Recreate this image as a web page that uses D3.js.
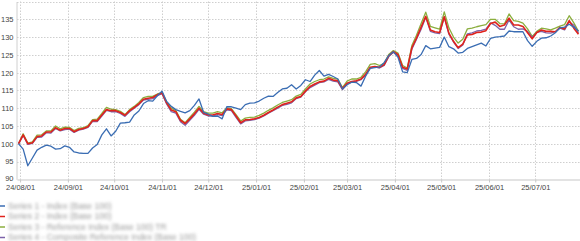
<!DOCTYPE html>
<html lang="ja">
<meta charset="utf-8">
<style>
  body { margin: 0; background: #fff; }
  .grid line { stroke: #cfcfcf; stroke-dasharray: 1.5 1.5; }
  .axis text { font-family: "Liberation Sans", Arial, sans-serif; font-size: 7.5px; fill: #444; }
  .legend text { font-family: "Liberation Sans", Arial, sans-serif; font-size: 8.5px; fill: #9a9a9a; }
</style>
<script src="https://d3js.org/d3.v7.min.js"></script>
<body>
<div id="chart"></div>
<script>
// dates (every 3 days)
const dates = [
"2024-07-31","2024-08-03","2024-08-06","2024-08-09","2024-08-12","2024-08-15","2024-08-18","2024-08-21","2024-08-24","2024-08-27",
"2024-08-30","2024-09-02","2024-09-05","2024-09-08","2024-09-11","2024-09-14","2024-09-17","2024-09-20","2024-09-23","2024-09-26",
"2024-09-29","2024-10-02","2024-10-05","2024-10-08","2024-10-11","2024-10-14","2024-10-17","2024-10-20","2024-10-23","2024-10-26",
"2024-10-29","2024-11-01","2024-11-04","2024-11-07","2024-11-10","2024-11-13","2024-11-16","2024-11-19","2024-11-22","2024-11-25",
"2024-11-28","2024-12-01","2024-12-04","2024-12-07","2024-12-10","2024-12-13","2024-12-16","2024-12-19","2024-12-22","2024-12-25",
"2024-12-28","2024-12-31","2025-01-03","2025-01-06","2025-01-09","2025-01-12","2025-01-15","2025-01-18","2025-01-21","2025-01-24",
"2025-01-27","2025-01-30","2025-02-02","2025-02-05","2025-02-08","2025-02-11","2025-02-14","2025-02-17","2025-02-20","2025-02-23",
"2025-02-26","2025-03-01","2025-03-04","2025-03-07","2025-03-10","2025-03-13","2025-03-16","2025-03-19","2025-03-22","2025-03-25",
"2025-03-28","2025-03-31","2025-04-03","2025-04-06","2025-04-09","2025-04-12","2025-04-15","2025-04-18","2025-04-21","2025-04-24",
"2025-04-27","2025-04-30","2025-05-03","2025-05-06","2025-05-09","2025-05-12","2025-05-15","2025-05-18","2025-05-21","2025-05-24",
"2025-05-27","2025-05-30","2025-06-02","2025-06-05","2025-06-08","2025-06-11","2025-06-14","2025-06-17","2025-06-20","2025-06-23",
"2025-06-26","2025-06-29","2025-07-02","2025-07-05","2025-07-08","2025-07-11","2025-07-14","2025-07-17","2025-07-20","2025-07-23",
"2025-07-26","2025-07-29"]

const blue = [
100.0,98.5,93.8,96.0,98.2,99.0,99.6,99.3,98.5,98.6,
99.4,99.0,97.7,97.4,97.3,97.3,98.8,99.8,102.5,104.2,
102.2,103.5,105.8,105.9,106.1,108.1,109.2,111.3,112.1,112.0,
113.5,114.8,111.9,110.5,109.6,109.1,108.7,109.3,110.8,112.6,
108.8,108.3,107.7,107.8,107.0,110.4,110.4,110.0,109.6,111.0,
111.4,111.5,112.0,112.8,113.4,113.3,114.4,115.4,115.6,116.6,
115.4,116.4,118.0,117.5,119.3,120.6,119.0,119.5,118.9,118.2,
115.4,116.6,117.3,117.2,116.2,119.0,121.2,121.4,121.6,122.8,
124.8,125.9,124.3,120.2,120.0,123.7,124.0,125.1,127.6,126.7,
126.9,127.1,130.0,127.3,126.7,125.5,125.7,126.8,127.3,127.8,
128.3,127.5,129.6,130.0,130.1,130.3,131.7,131.5,131.5,131.5,
129.0,127.4,128.8,129.7,129.8,130.3,131.2,132.6,132.8,133.6,
132.8,131.7]

const red = [
100.0,102.5,100.0,100.3,102.0,102.2,103.3,103.3,104.5,103.8,
104.3,104.3,103.4,104.0,104.3,104.8,106.5,106.5,108.1,109.6,
109.3,109.3,108.8,108.0,109.3,110.2,111.2,112.5,112.8,113.0,
113.8,114.3,111.5,109.5,109.0,106.6,105.7,107.0,108.4,110.0,
108.6,108.1,108.1,108.5,108.2,109.8,109.6,107.8,105.9,106.7,
106.8,107.0,107.4,108.0,108.8,109.5,110.3,111.0,111.4,111.8,
112.9,113.3,114.8,116.1,116.8,117.4,117.6,118.4,117.9,117.7,
115.5,117.0,117.5,117.7,118.2,119.5,121.5,121.7,121.5,122.2,
124.7,125.9,125.1,121.5,121.0,127.0,129.7,132.8,135.8,132.0,
131.5,131.3,135.7,131.1,128.8,127.0,128.0,130.6,130.7,131.3,
131.4,131.8,133.8,134.2,133.0,133.4,135.3,133.4,133.4,133.0,
131.2,129.5,131.3,132.0,131.6,131.6,131.5,132.7,132.3,134.6,
132.5,130.8]

const green = [
100.0,102.8,100.2,100.5,102.4,102.5,103.6,103.6,105.0,104.2,
104.7,104.6,103.7,104.3,104.5,105.1,106.8,106.9,108.5,110.2,
109.7,109.6,109.1,108.2,109.6,110.5,111.6,113.0,113.3,113.3,
114.0,114.4,111.8,110.0,109.3,106.9,105.9,107.4,108.9,110.5,
109.0,108.6,108.6,109.0,108.7,110.1,109.9,108.2,106.4,107.2,
107.4,107.5,108.0,108.6,109.4,110.1,110.9,111.6,112.0,112.4,
113.4,113.9,115.4,116.8,117.5,118.0,118.2,118.8,118.4,118.2,
115.8,117.6,118.2,118.2,118.7,120.2,122.3,122.5,122.0,122.6,
125.1,126.2,125.5,122.0,121.3,127.6,130.5,133.8,137.0,133.0,
132.6,132.2,137.1,132.6,130.0,128.3,129.4,132.3,132.5,132.9,
133.2,133.5,135.0,135.0,133.8,133.7,136.5,134.6,134.4,133.9,
132.3,130.2,131.6,132.5,132.3,132.0,132.5,133.1,133.5,136.0,
134.0,131.6]

const purple = [
100.0,102.3,99.8,100.1,101.8,101.9,103.1,103.0,104.3,103.6,
104.0,104.1,103.2,103.8,104.1,104.6,106.3,106.2,107.8,109.4,
109.0,109.0,108.5,107.7,109.0,110.0,111.0,112.3,112.5,112.7,
113.5,114.1,111.2,109.0,108.6,106.2,105.2,106.6,108.0,109.7,
108.3,107.8,107.8,108.2,107.9,109.5,109.3,107.4,105.6,106.4,
106.6,106.8,107.2,107.8,108.6,109.3,110.0,110.8,111.1,111.5,
112.7,113.1,114.6,115.8,116.5,117.2,117.4,118.1,117.6,117.4,
115.2,116.8,117.3,117.5,118.0,119.3,121.3,121.6,121.3,122.0,
124.5,125.7,124.8,121.2,120.6,126.6,129.4,132.2,135.6,131.6,
131.2,131.0,135.6,130.8,128.6,126.8,127.8,130.9,131.2,131.7,
131.9,132.2,134.0,133.3,132.2,132.2,134.8,132.9,132.2,132.3,
131.6,129.9,131.3,131.6,131.2,131.1,131.5,132.5,132.0,134.3,
133.3,131.2]

const yTicks = [90, 95, 100, 105, 110, 115, 120, 125, 130, 135, 140]

// legend labels (original text is unreadable in the source image)
const labels = [
  "Series 1 - Index (Base 100)",
  "Series 2 - Index (Base 100)",
  "Series 3 - Reference Index (Base 100) TR",
  "Series 4 - Composite Reference Index (Base 100)"
]
const colors = ["#3a6db3", "#e0231c", "#8bae3e", "#7c62a9"]

const W = 580, H = 241
const LEFT = 17, RIGHT = 580, TOP = 1.5, BOTTOM = 179.3

const svg = d3.select("#chart").append("svg")
  .attr("width", W)
  .attr("height", H)

const parse = d3.timeParse("%Y-%m-%d")
const xs = dates.map(parse)

const x = d3.scaleTime()
  .domain([parse("2024-07-30"), parse("2025-07-30")])
  .range([LEFT, RIGHT])
const y = d3.scaleLinear().domain([90, 140]).range([BOTTOM, TOP])

const months = d3.timeMonth.range(parse("2024-08-01"), parse("2025-07-02"))

// grid
const grid = svg.append("g").attr("class", "grid")
grid.selectAll(".h").data(yTicks.filter(d => d > 90)).join("line")
  .attr("x1", LEFT).attr("x2", RIGHT)
  .attr("y1", d => Math.round(y(d)) + 0.5).attr("y2", d => Math.round(y(d)) + 0.5)
grid.selectAll(".v").data(months).join("line")
  .attr("x1", d => Math.round(x(d)) + 0.5).attr("x2", d => Math.round(x(d)) + 0.5)
  .attr("y1", TOP).attr("y2", BOTTOM)

// axes
const xAxis = svg.append("g")
  .attr("class", "axis")
  .attr("transform", `translate(0, ${Math.round(BOTTOM) + 0.5})`)
  .call(d3.axisBottom(x).tickValues(months).tickFormat(d3.timeFormat("%y/%m/%d")).tickSize(3).tickSizeOuter(0))
xAxis.select(".domain").attr("stroke", "#c8c8c8").attr("stroke-width", 1.2)
xAxis.selectAll(".tick line").attr("stroke", "#c8c8c8")
xAxis.selectAll("text").attr("dy", "0.6em").attr("y", 5.5)

const yAxis = svg.append("g")
  .attr("class", "axis")
  .attr("transform", `translate(${LEFT - 0.5}, 0)`)
  .call(d3.axisLeft(y).tickValues(yTicks).tickSize(0).tickPadding(3))
yAxis.select(".domain").attr("stroke", "#d0d0d0")
yAxis.selectAll(".tick").filter(d => d === 140).select("text").remove()
yAxis.selectAll(".tick").filter(d => d === 90).select("text").attr("dy", "0.2em")

// lines
const series = [
  { vals: green, color: colors[2], w: 1.3 },
  { vals: purple, color: colors[3], w: 1.3 },
  { vals: red, color: colors[1], w: 1.6 },
  { vals: blue, color: colors[0], w: 1.3 }
]
const line = d3.line()
  .x((d, i) => x(xs[i]))
  .y(d => y(d))

svg.append("g").selectAll("path").data(series).join("path")
  .attr("fill", "none")
  .attr("stroke", d => d.color)
  .attr("stroke-width", d => d.w)
  .attr("stroke-linejoin", "round")
  .attr("d", d => line(d.vals))

// legend (blurred as in the source)
const defs = svg.append("defs")
defs.append("filter").attr("id", "blur")
  .attr("x", "-5%").attr("y", "-50%").attr("width", "110%").attr("height", "200%")
  .append("feGaussianBlur").attr("stdDeviation", 1.4)

const legendY = [206, 216.5, 227, 237.5]
const legend = svg.append("g").attr("class", "legend")
const items = legend.selectAll("g").data(labels).join("g")
  .attr("transform", (d, i) => `translate(0, ${legendY[i]})`)
items.append("line")
  .attr("x1", 0).attr("x2", 5)
  .attr("stroke", (d, i) => colors[i])
  .attr("stroke-width", 1.5)
items.append("text")
  .attr("x", 8)
  .attr("dy", "0.35em")
  .attr("filter", "url(#blur)")
  .text(d => d)
</script>
</body>
</html>
